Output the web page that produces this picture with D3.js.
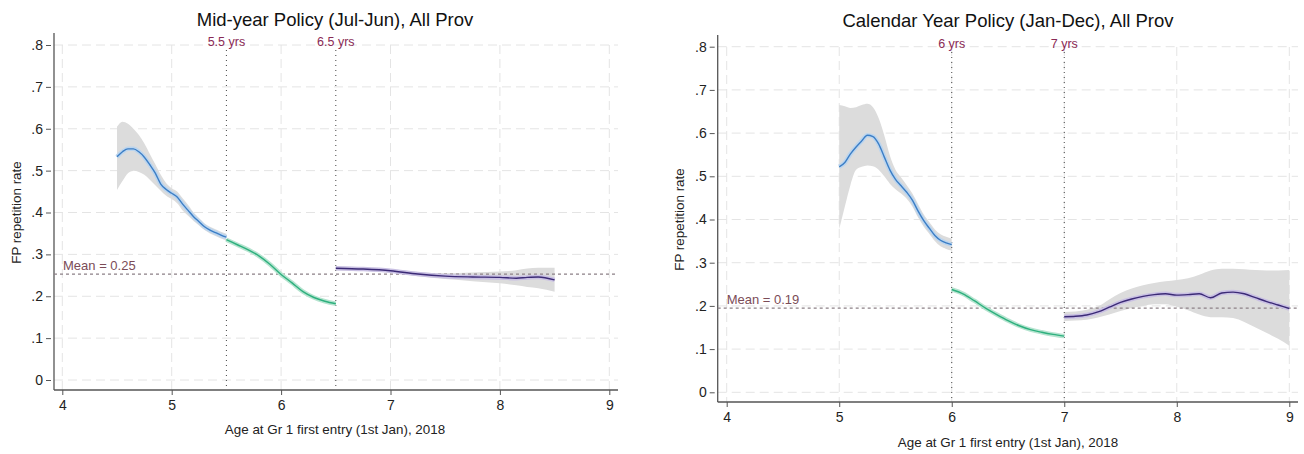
<!DOCTYPE html>
<html>
<head>
<meta charset="utf-8">
<script src="https://d3js.org/d3.v7.min.js"></script>
<style>
  body { margin: 0; background: #fff; }
  svg { display: block; font-family: "Liberation Sans", Arial, sans-serif; }
</style>
</head>
<body>
<svg id="chart" width="1304" height="454"></svg>
<script>
// ---- data ----
const yTicks = [0, 0.1, 0.2, 0.3, 0.4, 0.5, 0.6, 0.7, 0.8];
const yTickLabels = ["0", ".1", ".2", ".3", ".4", ".5", ".6", ".7", ".8"];
const xTicks = [4, 5, 6, 7, 8, 9];

// Mid-year policy panel
const midTitle = "Mid-year Policy (Jul-Jun), All Prov";
const midCutoffs = [5.5, 6.5];
const midCutoffLabels = ["5.5 yrs", "6.5 yrs"];
const midMean = 0.253;
const midMeanLabel = "Mean = 0.25";

const midBlueAge = [4.50, 4.55, 4.60, 4.65, 4.70, 4.75, 4.80, 4.85, 4.90, 4.95, 5.00, 5.05, 5.10, 5.15, 5.20, 5.25, 5.30, 5.35, 5.40, 5.45, 5.50];
const midBlueRate = [0.533, 0.545, 0.552, 0.552, 0.545, 0.532, 0.514, 0.494, 0.468, 0.455, 0.446, 0.437, 0.420, 0.405, 0.390, 0.378, 0.366, 0.358, 0.352, 0.346, 0.341];
const midBlueLo = [0.454, 0.475, 0.494, 0.500, 0.497, 0.490, 0.478, 0.465, 0.452, 0.440, 0.432, 0.422, 0.405, 0.392, 0.380, 0.369, 0.358, 0.350, 0.344, 0.338, 0.333];
const midBlueHi = [0.605, 0.617, 0.612, 0.600, 0.585, 0.565, 0.540, 0.515, 0.490, 0.470, 0.458, 0.450, 0.434, 0.418, 0.400, 0.387, 0.374, 0.366, 0.360, 0.354, 0.349];

const midGreenAge = [5.50, 5.60, 5.70, 5.80, 5.90, 6.00, 6.10, 6.20, 6.30, 6.40, 6.50];
const midGreenRate = [0.335, 0.323, 0.311, 0.296, 0.276, 0.252, 0.232, 0.211, 0.197, 0.188, 0.182];

const midPurpleAge = [6.50, 6.75, 7.00, 7.25, 7.50, 7.75, 8.00, 8.15, 8.25, 8.35, 8.50];
const midPurpleRate = [0.267, 0.265, 0.261, 0.253, 0.248, 0.246, 0.245, 0.243, 0.245, 0.246, 0.239];
const midPurpleLo = [0.262, 0.261, 0.257, 0.248, 0.241, 0.236, 0.231, 0.226, 0.222, 0.219, 0.211];
const midPurpleHi = [0.271, 0.269, 0.265, 0.258, 0.255, 0.257, 0.259, 0.262, 0.266, 0.268, 0.268];

// Calendar year policy panel
const calTitle = "Calendar Year Policy (Jan-Dec), All Prov";
const calCutoffs = [6, 7];
const calCutoffLabels = ["6 yrs", "7 yrs"];
const calMean = 0.195;
const calMeanLabel = "Mean = 0.19";

const calBlueAge = [5.00, 5.05, 5.10, 5.15, 5.20, 5.25, 5.30, 5.35, 5.40, 5.45, 5.50, 5.55, 5.60, 5.65, 5.70, 5.75, 5.80, 5.85, 5.90, 5.95, 6.00];
const calBlueRate = [0.522, 0.532, 0.552, 0.568, 0.582, 0.595, 0.592, 0.575, 0.545, 0.515, 0.493, 0.478, 0.463, 0.445, 0.420, 0.398, 0.380, 0.363, 0.352, 0.346, 0.342];
const calBlueLo = [0.378, 0.430, 0.480, 0.515, 0.522, 0.525, 0.523, 0.515, 0.500, 0.483, 0.470, 0.460, 0.448, 0.430, 0.405, 0.384, 0.367, 0.350, 0.338, 0.332, 0.328];
const calBlueHi = [0.665, 0.662, 0.658, 0.660, 0.665, 0.668, 0.660, 0.635, 0.595, 0.548, 0.515, 0.497, 0.479, 0.460, 0.436, 0.412, 0.394, 0.377, 0.366, 0.360, 0.356];

const calGreenAge = [6.00, 6.10, 6.20, 6.30, 6.40, 6.50, 6.60, 6.70, 6.80, 6.90, 7.00];
const calGreenRate = [0.238, 0.228, 0.212, 0.195, 0.180, 0.166, 0.154, 0.145, 0.139, 0.134, 0.130];

const calPurpleAge = [7.0, 7.1, 7.2, 7.3, 7.4, 7.5, 7.6, 7.7, 7.8, 7.9, 8.0, 8.1, 8.2, 8.3, 8.4, 8.5, 8.6, 8.7, 8.8, 8.9, 9.0];
const calPurpleRate = [0.175, 0.176, 0.179, 0.186, 0.197, 0.208, 0.216, 0.222, 0.226, 0.228, 0.225, 0.226, 0.228, 0.219, 0.230, 0.232, 0.228, 0.219, 0.210, 0.202, 0.194];
const calPurpleLo = [0.165, 0.166, 0.168, 0.173, 0.180, 0.188, 0.195, 0.200, 0.204, 0.204, 0.198, 0.190, 0.180, 0.174, 0.174, 0.172, 0.163, 0.150, 0.137, 0.124, 0.108];
const calPurpleHi = [0.186, 0.187, 0.191, 0.199, 0.215, 0.230, 0.240, 0.248, 0.253, 0.257, 0.260, 0.264, 0.272, 0.282, 0.286, 0.286, 0.285, 0.283, 0.282, 0.282, 0.283];

const xTitle = "Age at Gr 1 first entry (1st Jan), 2018";
const yTitle = "FP repetition rate";

const colors = {
    blue: "#3b7ec6", blueHalo: "#bcd5ee",
    green: "#2eb07e", greenHalo: "#b6e4d0",
    purple: "#3b2a76", purpleHalo: "#c9c0e3",
    band: "#dcdcdc"
};

function zip(age, rate, lo, hi) {
    return age.map((a, i) => ({ age: a, rate: rate[i], lo: lo ? lo[i] : null, hi: hi ? hi[i] : null }));
}

class RdPanel {

    constructor(_config, _data) {
        this.config = _config;
        this.data = _data;
        this.initVis();
    }

    initVis() {
        let vis = this;
        const c = vis.config;

        vis.g = d3.select('#chart').append('g');

        vis.x = d3.scaleLinear().domain([4, 9]).range([c.x4, c.x9]);
        vis.y = d3.scaleLinear().domain([0, 0.8]).range([c.y0, c.y8]);

        // grid
        vis.g.selectAll('.hgrid').data(yTicks).join('line')
            .attr('x1', c.axisX).attr('x2', c.right)
            .attr('y1', d => vis.y(d)).attr('y2', d => vis.y(d))
            .attr('stroke', '#e4e4e4').attr('stroke-dasharray', '9,5');
        vis.g.selectAll('.vgrid').data(xTicks).join('line')
            .attr('x1', d => vis.x(d)).attr('x2', d => vis.x(d))
            .attr('y1', c.top).attr('y2', c.axisY)
            .attr('stroke', '#e4e4e4').attr('stroke-dasharray', '9,5');

        // axes
        const yAxis = d3.axisLeft(vis.y).tickValues(yTicks)
            .tickFormat((d, i) => yTickLabels[i]).tickSize(5).tickPadding(3);
        vis.g.append('g').attr('transform', `translate(${c.axisX - 3},0)`).call(yAxis)
            .attr('font-family', null).attr('font-size', null)
            .call(g => g.select('.domain').remove())
            .call(g => g.selectAll('text').style('font-size', '14px').attr('fill', '#222'))
            .call(g => g.selectAll('line').attr('stroke', '#555'));
        vis.g.append('line').attr('x1', c.axisX).attr('x2', c.axisX)
            .attr('y1', c.top - 12).attr('y2', c.axisY).attr('stroke', '#555').attr('stroke-width', 1.3);

        const xAxis = d3.axisBottom(vis.x).tickValues(xTicks).tickFormat(d3.format('d'))
            .tickSize(5).tickPadding(5);
        vis.g.append('g').attr('transform', `translate(0,${c.axisY})`).call(xAxis)
            .attr('font-family', null).attr('font-size', null)
            .call(g => g.select('.domain').remove())
            .call(g => g.selectAll('text').style('font-size', '14px').attr('fill', '#222'))
            .call(g => g.selectAll('line').attr('stroke', '#555'));
        vis.g.append('line').attr('x1', c.axisX).attr('x2', c.right)
            .attr('y1', c.axisY).attr('y2', c.axisY).attr('stroke', '#555').attr('stroke-width', 1.3);

        // titles
        vis.g.append('text').attr('x', c.titleX).attr('y', c.titleY)
            .attr('text-anchor', 'middle').style('font-size', '18.5px').attr('fill', '#111')
            .text(c.title);
        vis.g.append('text').attr('x', c.titleX).attr('y', c.xTitleY)
            .attr('text-anchor', 'middle').style('font-size', '13.4px').attr('fill', '#222')
            .text(xTitle);
        vis.g.append('text')
            .attr('transform', `translate(${c.yTitleX},${(c.y0 + c.y8) / 2}) rotate(-90)`)
            .attr('text-anchor', 'middle').style('font-size', '13.4px').attr('fill', '#222')
            .text(yTitle);

        vis.renderVis();
    }

    renderVis() {
        let vis = this;
        const c = vis.config;

        const area = d3.area().curve(d3.curveMonotoneX)
            .x(d => vis.x(d.age)).y0(d => vis.y(d.lo)).y1(d => vis.y(d.hi));
        const line = d3.line().curve(d3.curveMonotoneX)
            .x(d => vis.x(d.age)).y(d => vis.y(d.rate));

        // confidence bands
        vis.data.filter(s => s.points[0].lo !== null).forEach(s => {
            vis.g.append('path').datum(s.points).attr('d', area).attr('fill', colors.band);
        });

        // mean line
        vis.g.append('line').attr('x1', c.axisX).attr('x2', c.right)
            .attr('y1', vis.y(c.mean)).attr('y2', vis.y(c.mean))
            .attr('stroke', '#8c8086').attr('stroke-width', 1.3).attr('stroke-dasharray', '3,3');
        vis.g.append('text').attr('x', c.axisX + 9).attr('y', vis.y(c.mean) - 4)
            .style('font-size', '13px').attr('fill', '#7b4c57').text(c.meanLabel);

        // cutoffs
        vis.g.selectAll('.cut').data(c.cutoffs).join('line')
            .attr('x1', d => vis.x(d)).attr('x2', d => vis.x(d))
            .attr('y1', c.top + 5).attr('y2', c.axisY)
            .attr('stroke', '#444').attr('stroke-width', 1).attr('stroke-dasharray', '1,4');
        vis.g.selectAll('.cutlab').data(c.cutoffs).join('text')
            .attr('x', d => vis.x(d)).attr('y', c.top + 1)
            .attr('text-anchor', 'middle').style('font-size', '12.5px').attr('fill', '#8a2a55')
            .text((d, i) => c.cutoffLabels[i]);

        // fitted lines with thin coloured band
        vis.data.forEach(s => {
            vis.g.append('path').datum(s.points).attr('d', line)
                .attr('fill', 'none').attr('stroke', colors[s.color + 'Halo']).attr('stroke-width', 4.5);
            vis.g.append('path').datum(s.points).attr('d', line)
                .attr('fill', 'none').attr('stroke', colors[s.color]).attr('stroke-width', 1.4);
        });
    }
}

new RdPanel({
    title: midTitle, cutoffs: midCutoffs, cutoffLabels: midCutoffLabels,
    mean: midMean, meanLabel: midMeanLabel,
    x4: 62.3, x9: 609.3, y0: 380, y8: 45,
    axisX: 54, axisY: 390, right: 618, top: 45,
    titleX: 335, titleY: 26, xTitleY: 434, yTitleX: 21
}, [
    { color: 'blue', points: zip(midBlueAge, midBlueRate, midBlueLo, midBlueHi) },
    { color: 'green', points: zip(midGreenAge, midGreenRate) },
    { color: 'purple', points: zip(midPurpleAge, midPurpleRate, midPurpleLo, midPurpleHi) }
]);

new RdPanel({
    title: calTitle, cutoffs: calCutoffs, cutoffLabels: calCutoffLabels,
    mean: calMean, meanLabel: calMeanLabel,
    x4: 726.7, x9: 1289.3, y0: 392.3, y8: 46.7,
    axisX: 717.7, axisY: 402, right: 1298, top: 47,
    titleX: 1008, titleY: 27, xTitleY: 447, yTitleX: 684
}, [
    { color: 'blue', points: zip(calBlueAge, calBlueRate, calBlueLo, calBlueHi) },
    { color: 'green', points: zip(calGreenAge, calGreenRate) },
    { color: 'purple', points: zip(calPurpleAge, calPurpleRate, calPurpleLo, calPurpleHi) }
]);
</script>
</body>
</html>
